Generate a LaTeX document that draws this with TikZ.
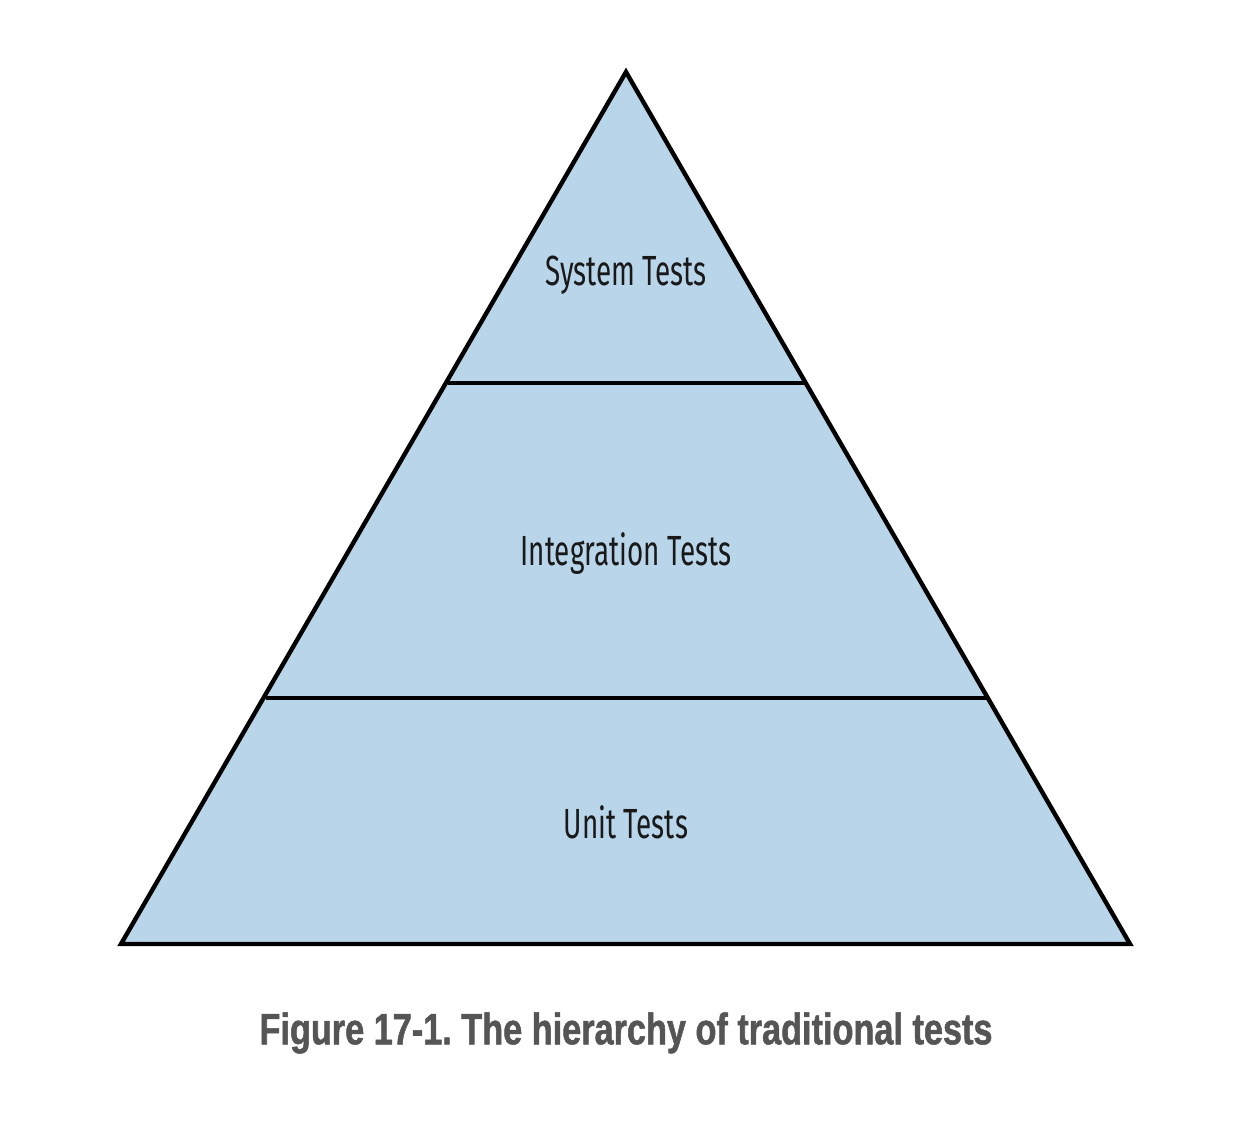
\documentclass[tikz,border=0pt]{standalone}
\usepackage{fontspec}
\usepackage{tikz}
\usetikzlibrary{positioning}
\setmainfont{Liberation Sans}
\newfontfamily\labelfont[FakeStretch=0.66]{Fira Sans}
\newfontfamily\captionfont[FakeStretch=0.78, FakeBold=1.2]{Liberation Sans Bold}
\definecolor{tierblue}{HTML}{B9D5EA}
\definecolor{capgray}{HTML}{555555}

\begin{document}
\begin{tikzpicture}[
    x=0.02cm, y=-0.02cm,
    tier/.style={fill=tierblue, draw=black, line width=2.5pt, line join=miter},
    sep/.style={draw=black, line width=2.5pt},
    lbl/.style={font=\labelfont\fontsize{24}{28}\selectfont, text=black!90},
    captext/.style={font=\captionfont\fontsize{25}{29}\selectfont, text=capgray},
  ]
    \useasboundingbox (0,0) rectangle (1248,1120);
    \coordinate (apex) at (626,72);
    \coordinate (bl) at (121,944);
    \coordinate (br) at (1130,944);
    \filldraw[tier] (apex) -- (br) -- (bl) -- cycle;

    % tier borders
    \coordinate (sysL) at (448,383);
    \coordinate (sysR) at (804,383);
    \coordinate (intL) at (266,698);
    \coordinate (intR) at (987,698);
    \draw[sep] (sysL) -- (sysR);
    \draw[sep] (intL) -- (intR);

    \node[lbl] (system) at (626,275) {System Tests};
    \node[lbl] (integration) at (626,554) {Integration Tests};
    \node[lbl] (unit) at (626,822) {Unit Tests};

    \node[captext] (caption) at (626,1033) {Figure 17-1.\ The hierarchy of traditional tests};
  \end{tikzpicture}
\end{document}
